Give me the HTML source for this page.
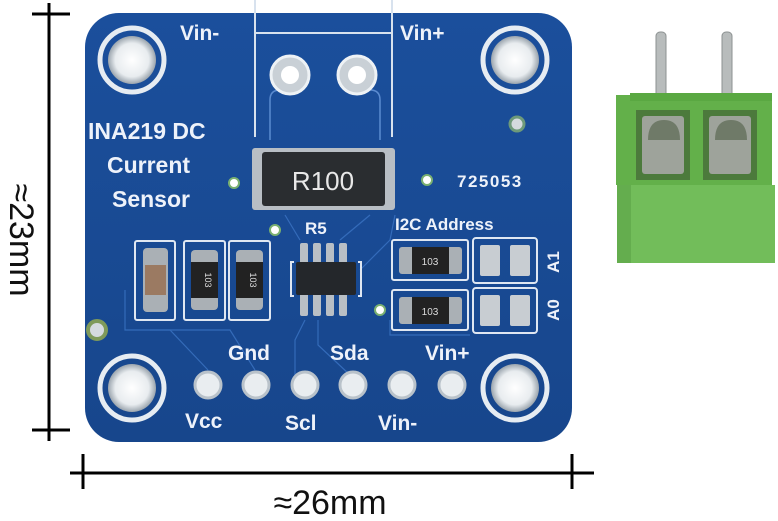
<!DOCTYPE html>
<html><head><meta charset="utf-8"><style>
html,body{margin:0;padding:0;background:#fff;}
svg{display:block;}
</style></head><body>
<svg width="778" height="521" viewBox="0 0 778 521" xmlns="http://www.w3.org/2000/svg" font-family="Liberation Sans, sans-serif">
<defs>
<radialGradient id="hole" cx="50%" cy="50%" r="50%">
<stop offset="0" stop-color="#ffffff"/><stop offset="0.7" stop-color="#e8ecef"/><stop offset="1" stop-color="#9aa4ad"/>
</radialGradient>
<linearGradient id="board" x1="0" y1="0" x2="0" y2="1">
<stop offset="0" stop-color="#1b4f9c"/><stop offset="1" stop-color="#17468c"/>
</linearGradient>
</defs>
<g stroke="#000" stroke-width="3">
<line x1="49" y1="3" x2="49" y2="441"/>
<line x1="32" y1="14" x2="70" y2="14"/>
<line x1="32" y1="430" x2="70" y2="430"/>
<line x1="70" y1="473" x2="594" y2="473"/>
<line x1="83" y1="454" x2="83" y2="489"/>
<line x1="572" y1="454" x2="572" y2="489"/>
</g>
<text transform="translate(10,240) rotate(90)" text-anchor="middle" font-size="34" fill="#111">≈23mm</text>
<text x="330" y="514" text-anchor="middle" font-size="34" fill="#111">≈26mm</text>

<rect x="85" y="13" width="487" height="429" rx="34" fill="url(#board)"/>
<g fill="none" stroke="#3b74c4" stroke-width="1.2" opacity="0.8">
<path d="M125 290 L125 330 L170 330 L208 370"/>
<path d="M150 330 L230 330 L255 370"/>
<path d="M305 320 L295 340 L295 385"/>
<path d="M318 320 L318 345 L350 375"/>
<path d="M360 270 L390 240 L395 215"/>
<path d="M340 240 L370 215"/>
<path d="M300 240 L285 215"/>
<path d="M390 320 L390 335 L470 335"/>
</g>
<g>
<circle cx="132" cy="60" r="32" fill="none" stroke="#e6ecf2" stroke-width="5"/>
<circle cx="132" cy="60" r="24" fill="url(#hole)"/>
<circle cx="515" cy="60" r="32" fill="none" stroke="#e6ecf2" stroke-width="5"/>
<circle cx="515" cy="60" r="24" fill="url(#hole)"/>
<circle cx="132" cy="388" r="32" fill="none" stroke="#e6ecf2" stroke-width="5"/>
<circle cx="132" cy="388" r="24" fill="url(#hole)"/>
<circle cx="515" cy="388" r="32" fill="none" stroke="#e6ecf2" stroke-width="5"/>
<circle cx="515" cy="388" r="24" fill="url(#hole)"/>
</g>
<g fill="none" stroke="#d8e2ee" stroke-width="2">
<path d="M255 0 L255 137 M392 0 L392 137 M255 33 L392 33"/>
</g>
<path d="M270 140 L270 100 Q270 90 280 90 L290 90 M357 90 L370 90 Q380 90 380 100 L380 140" fill="none" stroke="#5b8bd0" stroke-width="1.5"/>
<circle cx="290" cy="75" r="19" fill="#c9d0d6" stroke="#eef2f5" stroke-width="3"/>
<circle cx="290" cy="75" r="9" fill="#fff"/>
<circle cx="357" cy="75" r="19" fill="#c9d0d6" stroke="#eef2f5" stroke-width="3"/>
<circle cx="357" cy="75" r="9" fill="#fff"/>
<rect x="252" y="148" width="143" height="62" rx="3" fill="#b8bec4"/>
<rect x="262" y="152" width="123" height="54" rx="3" fill="#2a2d30"/>
<text x="323" y="190" text-anchor="middle" font-size="26" fill="#e8e8e8">R100</text>
<circle cx="234" cy="183" r="5" fill="#fff" stroke="#7ab070" stroke-width="2"/>
<circle cx="427" cy="180" r="5" fill="#fff" stroke="#7ab070" stroke-width="2"/>
<circle cx="275" cy="230" r="5" fill="#fff" stroke="#7ab070" stroke-width="2"/>
<circle cx="380" cy="310" r="5" fill="#fff" stroke="#7ab070" stroke-width="2"/>
<circle cx="517" cy="124" r="7" fill="#d5dadf" stroke="#6e9a7a" stroke-width="3"/>
<circle cx="97" cy="330" r="9" fill="#d5dadf" stroke="#7f9a5a" stroke-width="4"/>
<g fill="#eef2fa" font-weight="bold">
<text x="180" y="40" font-size="21">Vin-</text>
<text x="400" y="40" font-size="21">Vin+</text>
<text x="88" y="139" font-size="23">INA219 DC</text>
<text x="107" y="173" font-size="23">Current</text>
<text x="112" y="207" font-size="23">Sensor</text>
<text x="457" y="187" font-size="17" letter-spacing="1.5">725053</text>
<text x="305" y="234" font-size="17">R5</text>
<text x="395" y="230" font-size="17">I2C Address</text>
<text transform="translate(559,262) rotate(-90)" font-size="17" text-anchor="middle">A1</text>
<text transform="translate(559,310) rotate(-90)" font-size="17" text-anchor="middle">A0</text>
<text x="228" y="360" font-size="21">Gnd</text>
<text x="330" y="360" font-size="21">Sda</text>
<text x="425" y="360" font-size="21">Vin+</text>
<text x="185" y="428" font-size="21">Vcc</text>
<text x="285" y="430" font-size="21">Scl</text>
<text x="378" y="430" font-size="21">Vin-</text>
</g>
<g fill="none" stroke="#dfe7f2" stroke-width="2">
<rect x="135" y="241" width="40" height="79" rx="2"/>
<rect x="184" y="241" width="41" height="79" rx="2"/>
<rect x="229" y="241" width="41" height="79" rx="2"/>
<rect x="392" y="240" width="76" height="40" rx="2"/>
<rect x="473" y="238" width="64" height="45" rx="3"/>
<rect x="392" y="290" width="76" height="40" rx="2"/>
<rect x="473" y="288" width="64" height="45" rx="3"/>
</g>
<rect x="143" y="248" width="25" height="64" rx="4" fill="#aab0b5"/>
<rect x="145" y="265" width="21" height="30" fill="#9b7a62"/>
<rect x="191" y="250" width="27" height="60" rx="4" fill="#aab0b5"/>
<rect x="191" y="262" width="27" height="36" fill="#222"/>
<text transform="translate(205,280) rotate(90)" text-anchor="middle" font-size="9" fill="#ddd">103</text>
<rect x="236" y="250" width="27" height="60" rx="4" fill="#aab0b5"/>
<rect x="236" y="262" width="27" height="36" fill="#222"/>
<text transform="translate(250,280) rotate(90)" text-anchor="middle" font-size="9" fill="#ddd">103</text>
<rect x="399" y="247" width="63" height="27" rx="3" fill="#aab0b5"/>
<rect x="412" y="247" width="37" height="27" fill="#222"/>
<text x="430" y="265" text-anchor="middle" font-size="10" fill="#ddd">103</text>
<rect x="399" y="297" width="63" height="27" rx="3" fill="#aab0b5"/>
<rect x="412" y="297" width="37" height="27" fill="#222"/>
<text x="430" y="315" text-anchor="middle" font-size="10" fill="#ddd">103</text>
<g fill="#c8cdd2">
<rect x="480" y="245" width="20" height="31" rx="2"/>
<rect x="510" y="245" width="20" height="31" rx="2"/>
<rect x="480" y="295" width="20" height="31" rx="2"/>
<rect x="510" y="295" width="20" height="31" rx="2"/>
</g>
<g fill="#b9bfc5">
<rect x="300" y="243" width="8" height="22" rx="2"/><rect x="313" y="243" width="8" height="22" rx="2"/>
<rect x="326" y="243" width="8" height="22" rx="2"/><rect x="339" y="243" width="8" height="22" rx="2"/>
<rect x="300" y="293" width="8" height="23" rx="2"/><rect x="313" y="293" width="8" height="23" rx="2"/>
<rect x="326" y="293" width="8" height="23" rx="2"/><rect x="339" y="293" width="8" height="23" rx="2"/>
</g>
<rect x="296" y="262" width="60" height="33" rx="2" fill="#24272b"/>
<path d="M294 262 L291 262 L291 296 L294 296 M358 262 L361 262 L361 296 L358 296" fill="none" stroke="#dfe7f2" stroke-width="2"/>
<g fill="#e9edf0" stroke="#b9c2ca" stroke-width="3">
<circle cx="208" cy="385" r="13"/><circle cx="256" cy="385" r="13"/>
<circle cx="305" cy="385" r="13"/><circle cx="353" cy="385" r="13"/>
<circle cx="402" cy="385" r="13"/><circle cx="452" cy="385" r="13"/>
</g>

<rect x="656" y="32" width="10" height="75" rx="4" fill="#b8bcbc" stroke="#8d9292"/>
<rect x="722" y="32" width="10" height="75" rx="4" fill="#b8bcbc" stroke="#8d9292"/>
<rect x="616" y="95" width="156" height="90" fill="#63b04a"/>
<rect x="630" y="93" width="142" height="8" fill="#5aa842"/>
<rect x="636" y="110" width="54" height="70" fill="#4c7a3c"/>
<rect x="642" y="116" width="42" height="58" rx="3" fill="#9ea39b"/>
<path d="M648 140 Q648 120 664 120 Q680 120 680 140 Z" fill="#6f7a68"/>
<rect x="703" y="110" width="54" height="70" fill="#4c7a3c"/>
<rect x="709" y="116" width="42" height="58" rx="3" fill="#9ea39b"/>
<path d="M715 140 Q715 120 731 120 Q747 120 747 140 Z" fill="#6f7a68"/>
<rect x="617" y="185" width="158" height="78" fill="#72bd5a"/>
<rect x="617" y="185" width="14" height="78" fill="#64ad4e"/>
</svg>
</body></html>
